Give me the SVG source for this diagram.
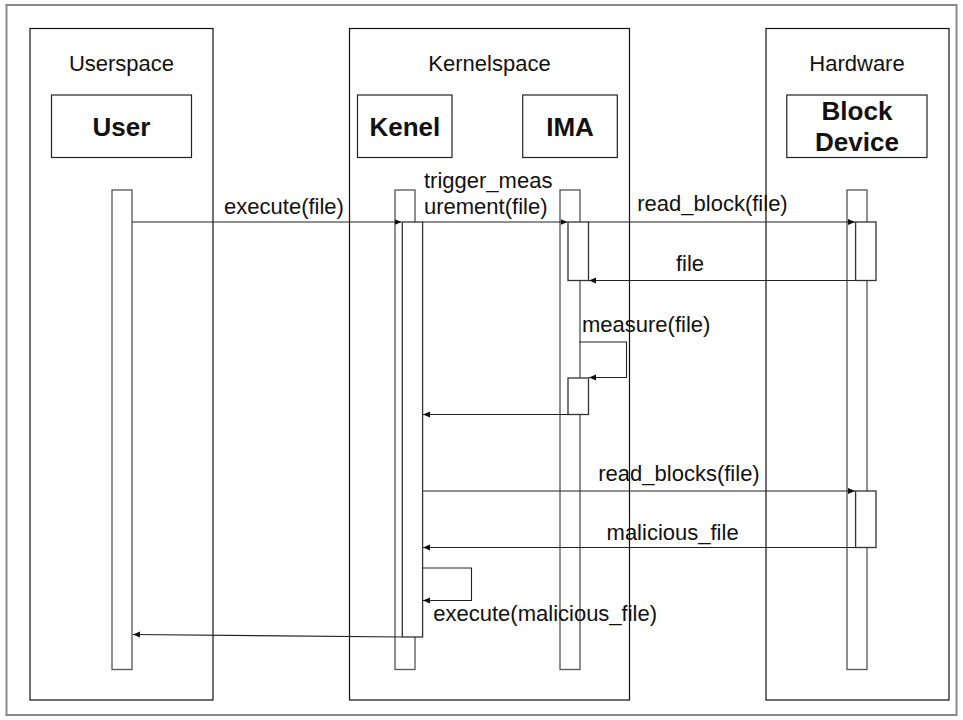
<svg xmlns="http://www.w3.org/2000/svg" width="963" height="720" viewBox="0 0 963 720">
  <style>
    .frame { fill: none; stroke: #111; stroke-width: 1.2; }
    .head { fill: #fff; stroke: #222; stroke-width: 1.2; }
    .life { fill: #fff; stroke: #555; stroke-width: 1.3; }
    .act { fill: #fff; stroke: #333; stroke-width: 1.3; }
    .msg { fill: none; stroke: #222; stroke-width: 1.1; }
    text { font-family: "Liberation Sans", Arial, sans-serif; fill: #111; }
    .lane { font-size: 22px; text-anchor: middle; }
    .actor { font-size: 26px; font-weight: bold; text-anchor: middle; }
    .lbl { font-size: 22px; }
    .mid { text-anchor: middle; }
  </style>
  <defs>
    <marker id="arrow" markerUnits="userSpaceOnUse" markerWidth="8" markerHeight="8" viewBox="0 0 8 8" refX="7" refY="4" orient="auto">
      <path d="M0,1 L7,4 L0,7 z" fill="#111"/>
    </marker>
  </defs>

  <rect width="963" height="720" fill="#fff"/>
  <!-- outer border -->
  <rect x="6.5" y="5" width="950" height="710" fill="none" stroke="#8a8a8a" stroke-width="2"/>

  <!-- swimlane frames -->
  <g id="userspace">
    <rect class="frame" x="30" y="28.5" width="183" height="671.5"/>
    <text class="lane" x="121.5" y="71">Userspace</text>
  </g>
  <g id="kernelspace">
    <rect class="frame" x="349.5" y="28.5" width="280" height="671.5"/>
    <text class="lane" x="489.5" y="71">Kernelspace</text>
  </g>
  <g id="hardware">
    <rect class="frame" x="766" y="28.5" width="183" height="671.5"/>
    <text class="lane" x="857" y="71">Hardware</text>
  </g>

  <!-- participants with lifelines -->
  <g id="user">
    <rect class="head" x="51.5" y="95" width="140" height="62.5"/>
    <text class="actor" x="121.5" y="136">User</text>
    <rect class="life" x="112" y="190" width="20" height="479.5"/>
  </g>
  <g id="kenel">
    <rect class="head" x="357.5" y="95" width="94.5" height="62.5"/>
    <text class="actor" x="404.8" y="136">Kenel</text>
    <rect class="life" x="395" y="190" width="20" height="479.5"/>
  </g>
  <g id="ima">
    <rect class="head" x="522.7" y="95" width="94.6" height="62.5"/>
    <text class="actor" x="570" y="136">IMA</text>
    <rect class="life" x="560" y="190" width="20" height="479.5"/>
  </g>
  <g id="block-device">
    <rect class="head" x="786.8" y="95" width="140.2" height="62.5"/>
    <text class="actor" x="857" y="120">Block</text>
    <text class="actor" x="857" y="151">Device</text>
    <rect class="life" x="847" y="190" width="20" height="479.5"/>
  </g>

  <!-- messages -->
  <g id="connectors">
    <line class="msg" x1="132" y1="222" x2="401.5" y2="222" marker-end="url(#arrow)"/>
    <line class="msg" x1="422.5" y1="222" x2="567.5" y2="222" marker-end="url(#arrow)"/>
    <line class="msg" x1="588.5" y1="222" x2="855" y2="222" marker-end="url(#arrow)"/>
    <line class="msg" x1="876" y1="280.5" x2="589" y2="280.5" marker-end="url(#arrow)"/>
    <polyline class="msg" points="579,342 626.5,342 626.5,377.5 589,377.5" marker-end="url(#arrow)"/>
    <line class="msg" x1="568" y1="414.5" x2="423" y2="414.5" marker-end="url(#arrow)"/>
    <line class="msg" x1="422.5" y1="491" x2="855" y2="491" marker-end="url(#arrow)"/>
    <line class="msg" x1="876" y1="547.5" x2="423" y2="547.5" marker-end="url(#arrow)"/>
    <polyline class="msg" points="422.5,568 471.5,568 471.5,600.5 423,600.5" marker-end="url(#arrow)"/>
    <line class="msg" x1="402" y1="637" x2="133" y2="634.5" marker-end="url(#arrow)"/>
  </g>

  <!-- activation bars -->
  <g id="activations">
    <rect class="act" x="402.3" y="222" width="20.3" height="415"/>
    <rect class="act" x="568" y="222" width="20.5" height="58.5"/>
    <rect class="act" x="568" y="378" width="20.5" height="36.5"/>
    <rect class="act" x="855.6" y="222" width="20.4" height="58.5"/>
    <rect class="act" x="855.6" y="491" width="20.4" height="56.5"/>
  </g>

  <!-- message labels -->
  <g id="labels">
    <text class="lbl mid" x="284" y="214">execute(file)</text>
    <text class="lbl" x="424" y="188">trigger_meas</text>
    <text class="lbl" x="424" y="214">urement(file)</text>
    <text class="lbl mid" x="712.5" y="211">read_block(file)</text>
    <text class="lbl mid" x="690" y="271">file</text>
    <text class="lbl" x="582" y="332">measure(file)</text>
    <text class="lbl mid" x="679" y="481">read_blocks(file)</text>
    <text class="lbl mid" x="672.6" y="540">malicious_file</text>
    <text class="lbl" x="433.3" y="621">execute(malicious_file)</text>
  </g>
</svg>
